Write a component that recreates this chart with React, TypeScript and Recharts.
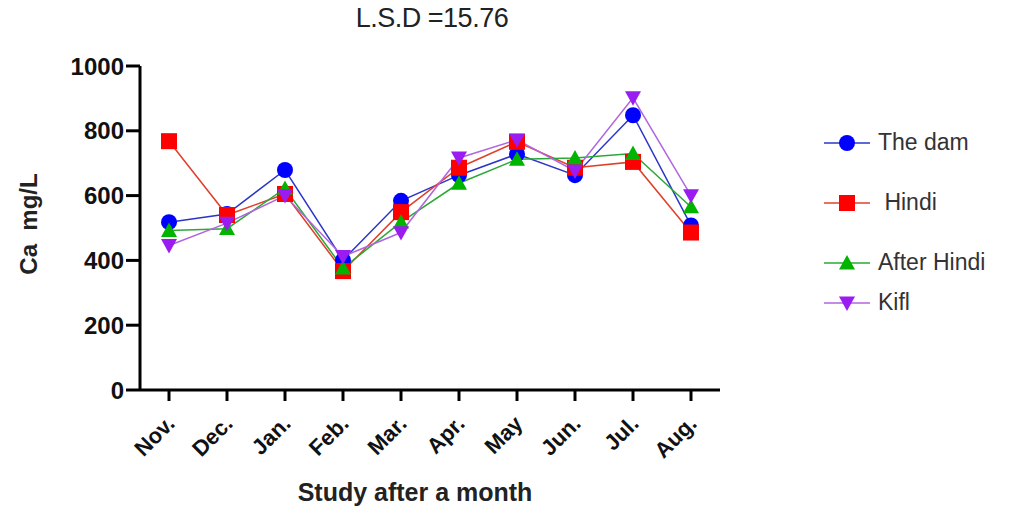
import { Label, Line, LineChart, XAxis, YAxis } from "recharts";

const MONTHS = ["Nov.", "Dec.", "Jan.", "Feb.", "Mar.", "Apr.", "May", "Jun.", "Jul.", "Aug."];
const THE_DAM = [518, 543, 679, 401, 584, 663, 728, 663, 848, 508];
const HINDI = [768, 540, 605, 367, 549, 686, 766, 686, 704, 486];
const AFTER_HINDI = [492, 498, 622, 376, 518, 638, 712, 716, 730, 565];
const KIFL = [446, 515, 600, 412, 486, 716, 772, 676, 902, 600];
const Y_TICKS = [0, 200, 400, 600, 800, 1000];

const SERIES = [
  { key: "dam", label: "The dam", values: THE_DAM, line: "#2b35c8", fill: "#0000ff", shape: "circle" },
  { key: "hindi", label: " Hindi", values: HINDI, line: "#e0402a", fill: "#ff0000", shape: "square" },
  { key: "after", label: "After Hindi", values: AFTER_HINDI, line: "#2aa836", fill: "#00b400", shape: "up" },
  { key: "kifl", label: "Kifl", values: KIFL, line: "#b066e0", fill: "#9a1cf0", shape: "down" },
] as const;

const data = MONTHS.map((m, i) => {
  const row: Record<string, string | number> = { month: m };
  SERIES.forEach((s) => (row[s.key] = s.values[i]));
  return row;
});

const FONT = "'Liberation Sans', Arial, sans-serif";

function Marker({ shape, cx, cy, fill, r = 8 }: { shape: string; cx: number; cy: number; fill: string; r?: number }) {
  if (shape === "circle") return <circle cx={cx} cy={cy} r={r} fill={fill} />;
  if (shape === "square") return <rect x={cx - r} y={cy - r} width={r * 2} height={r * 2} fill={fill} />;
  if (shape === "up")
    return <polygon points={`${cx},${cy - r} ${cx + r},${cy + r * 0.8} ${cx - r},${cy + r * 0.8}`} fill={fill} />;
  return <polygon points={`${cx - r},${cy - r * 0.8} ${cx + r},${cy - r * 0.8} ${cx},${cy + r}`} fill={fill} />;
}

const dotFor = (shape: string, fill: string) => (p: any) =>
  <Marker key={`${shape}-${p.index}`} shape={shape} cx={p.cx} cy={p.cy} fill={fill} />;

function MonthTick({ x, y, payload }: any) {
  return (
    <text
      x={x + 7}
      y={y + 22}
      transform={`rotate(-45 ${x + 7} ${y + 22})`}
      textAnchor="end"
      fontFamily={FONT}
      fontWeight="bold"
      fontSize={22}
      fill="#111"
    >
      {payload.value}
    </text>
  );
}

const LEGEND_TOPS = [0, 60, 120, 160];

function ChartLegend() {
  return (
    <div style={{ position: "absolute", left: 822, top: 129, width: 190, height: 190 }}>
      {SERIES.map((s, i) => (
        <div key={s.key} style={{ position: "absolute", top: LEGEND_TOPS[i], left: 0, display: "flex", alignItems: "center" }}>
          <svg width={50} height={26}>
            <line x1={2} x2={48} y1={13} y2={13} stroke={s.line} strokeWidth={1.5} />
            <Marker shape={s.shape} cx={25} cy={13} fill={s.fill} r={8} />
          </svg>
          <span style={{ fontFamily: FONT, fontSize: 23, color: "#333", marginLeft: 6, whiteSpace: "pre" }}>{s.label}</span>
        </div>
      ))}
    </div>
  );
}

export default function App() {
  return (
    <div style={{ position: "absolute", left: 0, top: 0, width: 1011, height: 509, background: "#fff" }}>
      <div
        style={{
          position: "absolute",
          left: 0,
          width: 864,
          top: 3,
          textAlign: "center",
          fontFamily: FONT,
          fontSize: 27,
          color: "#222",
          letterSpacing: -0.5,
        }}
      >
        L.S.D =15.76
      </div>
      <LineChart width={1011} height={509} data={data} margin={{ top: 66, right: 291, bottom: 0, left: 0 }}>
        <XAxis
          dataKey="month"
          tick={<MonthTick />}
          tickLine={{ stroke: "#000", strokeWidth: 3 }}
          tickSize={11}
          axisLine={{ stroke: "#000", strokeWidth: 3 }}
          height={119}
          interval={0}
          padding={{ left: 29, right: 29 }}
        >
          <Label
            value="Study after a month"
            position="insideBottom"
            offset={8}
            dx={-15}
            style={{ fontFamily: FONT, fontWeight: "bold", fontSize: 25, fill: "#222" }}
          />
        </XAxis>
        <YAxis
          domain={[0, 1000]}
          ticks={Y_TICKS}
          interval={0}
          width={140}
          tickSize={14}
          tickLine={{ stroke: "#000", strokeWidth: 3 }}
          axisLine={{ stroke: "#000", strokeWidth: 3 }}
          tick={{ fontFamily: FONT, fontWeight: "bold", fontSize: 24, fill: "#111" }}
        >
          <Label
            value={"Ca\u00a0\u00a0mg/L"}
            angle={-90}
            position="insideLeft"
            offset={28}
            dy={-4}
            style={{ fontFamily: FONT, fontWeight: "bold", fontSize: 24, fill: "#222", textAnchor: "middle" }}
          />
        </YAxis>
        {SERIES.map((s) => (
          <Line
            key={s.key}
            dataKey={s.key}
            name={s.label}
            stroke={s.line}
            strokeWidth={1.5}
            dot={dotFor(s.shape, s.fill)}
            activeDot={false}
            isAnimationActive={false}
          />
        ))}
      </LineChart>
      <ChartLegend />
    </div>
  );
}
